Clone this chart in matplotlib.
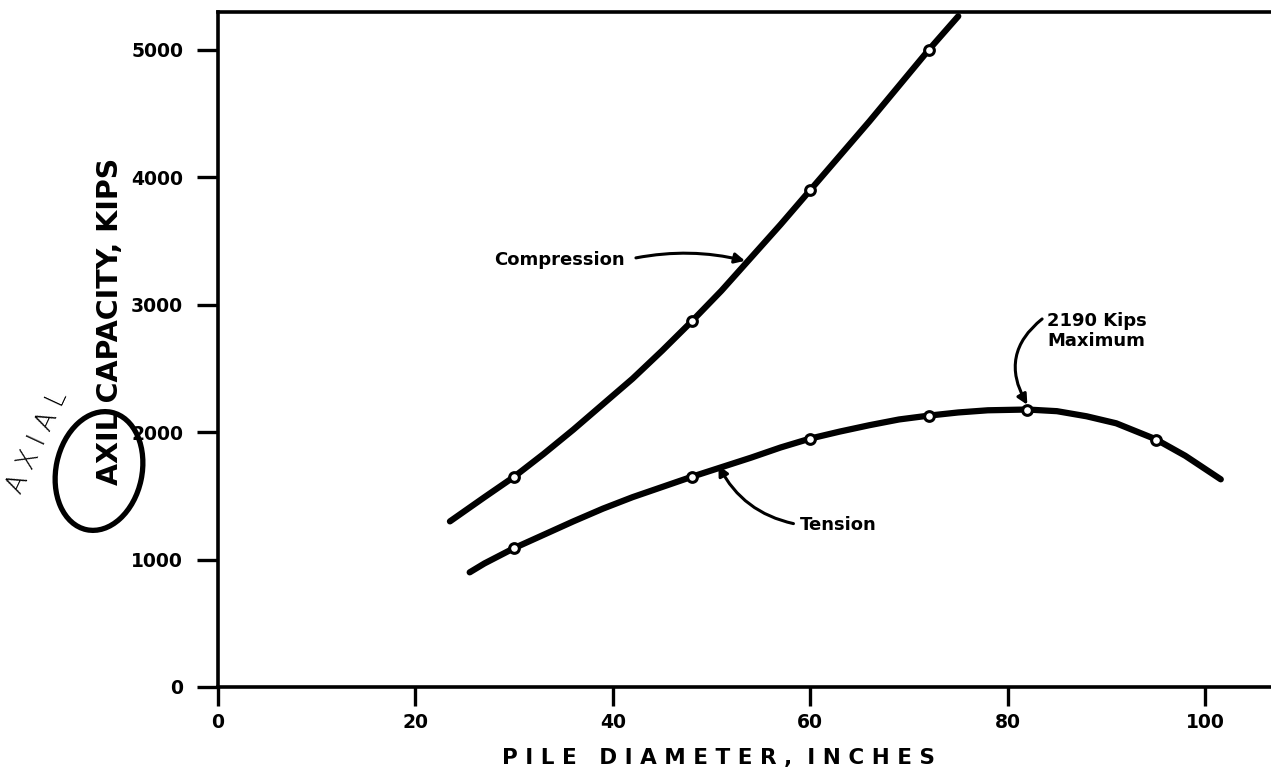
import matplotlib
matplotlib.use("Agg")
import matplotlib.pyplot as plt
from matplotlib.patches import Ellipse

# ---- data ----
comp_x = [23.5, 27, 30, 33, 36, 39, 42, 45, 48, 51, 54, 57, 60, 63, 66, 69, 72, 75]
comp_y = [1300, 1490, 1650, 1830, 2020, 2220, 2420, 2640, 2870, 3110, 3370, 3630, 3900, 4170, 4440, 4720, 5000, 5265]
comp_pts_x = [30, 48, 60, 72]
comp_pts_y = [1650, 2870, 3900, 5000]

tens_x = [25.5, 27, 30, 33, 36, 39, 42, 45, 48, 51, 54, 57, 60, 63, 66, 69, 72, 75, 78, 82, 85, 88, 91, 95, 98, 101.6]
tens_y = [900, 970, 1090, 1195, 1300, 1400, 1490, 1570, 1650, 1725, 1800, 1880, 1950, 2005, 2055, 2100, 2130, 2155, 2172, 2178, 2165, 2125, 2070, 1945, 1815, 1630]
tens_pts_x = [30, 48, 60, 72, 82, 95]
tens_pts_y = [1090, 1650, 1950, 2128, 2176, 1942]

x_ticks = [0, 20, 40, 60, 80, 100]
y_ticks = [0, 1000, 2000, 3000, 4000, 5000]

W, H = 1271, 779
fig = plt.figure(figsize=(W / 100, H / 100), dpi=100)
ax = fig.add_axes([218 / W, 1 - 687 / H, 1 - 218 / W, (687 - 12) / H])
ax.set_xlim(0, (W - 218) / 9.87)
ax.set_ylim(0, (687 - 12) / 0.1274)

for s in ["left", "top", "bottom"]:
    ax.spines[s].set_linewidth(2.6)
ax.spines["right"].set_visible(False)

ax.set_xticks(x_ticks)
ax.set_yticks(y_ticks)
ax.tick_params(axis="x", direction="out", length=14, width=2.4, pad=5, labelsize=13.5)
ax.tick_params(axis="y", direction="out", length=15, width=2.4, pad=10, labelsize=13.5)
for lab in ax.get_xticklabels() + ax.get_yticklabels():
    lab.set_fontweight("bold")

ax.plot(comp_x, comp_y, color="black", lw=4.5, solid_capstyle="round")
ax.plot(tens_x, tens_y, color="black", lw=4.5, solid_capstyle="round")
ax.plot(comp_pts_x, comp_pts_y, "o", ms=7, mfc="white", mec="black", mew=2.2)
ax.plot(tens_pts_x, tens_pts_y, "o", ms=7, mfc="white", mec="black", mew=2.2)

tkw = dict(fontsize=13, fontweight="bold")
ax.annotate("Compression", xy=(53.4, 3345), xytext=(28.0, 3350), va="center", ha="left",
            arrowprops=dict(arrowstyle="-|>", lw=2.2, color="black", mutation_scale=15,
                            connectionstyle="arc3,rad=-0.12", shrinkA=6, shrinkB=0,
                            relpos=(1, 0.5)), **tkw)
ax.annotate("Tension", xy=(50.7, 1740), xytext=(59.0, 1272), va="center", ha="left",
            arrowprops=dict(arrowstyle="-|>", lw=2.2, color="black", mutation_scale=15,
                            connectionstyle="arc3,rad=-0.25", shrinkA=3, shrinkB=0,
                            relpos=(0, 0.5)), **tkw)
ax.annotate("2190 Kips\nMaximum", xy=(82.0, 2215), xytext=(84.0, 2795), va="center", ha="left",
            linespacing=1.1,
            arrowprops=dict(arrowstyle="-|>", lw=2.2, color="black", mutation_scale=15,
                            connectionstyle="arc3,rad=0.45", shrinkA=2, shrinkB=0,
                            relpos=(0, 0.92)), **tkw)

fig.text(718 / W, 1 - 758 / H, "P I L E   D I A M E T E R ,  I N C H E S", fontsize=15.5,
         fontweight="bold", ha="center", va="center")
fig.text(110 / W, 1 - 321 / H, "AXIL CAPACITY, KIPS", rotation=90, fontsize=20.5,
         fontweight="bold", ha="center", va="center")

# handwritten correction
fig.text(37 / W, 1 - 442 / H, "A X I A L", rotation=65, fontsize=19, fontweight="light",
         ha="center", va="center", rotation_mode="anchor")
fig.patches.append(Ellipse((0.99, (H - 471) / 100), 0.86, 1.20, angle=-12,
                           transform=fig.dpi_scale_trans, fill=False, lw=3.8,
                           edgecolor="black"))

fig.savefig("out.png", dpi=100)
